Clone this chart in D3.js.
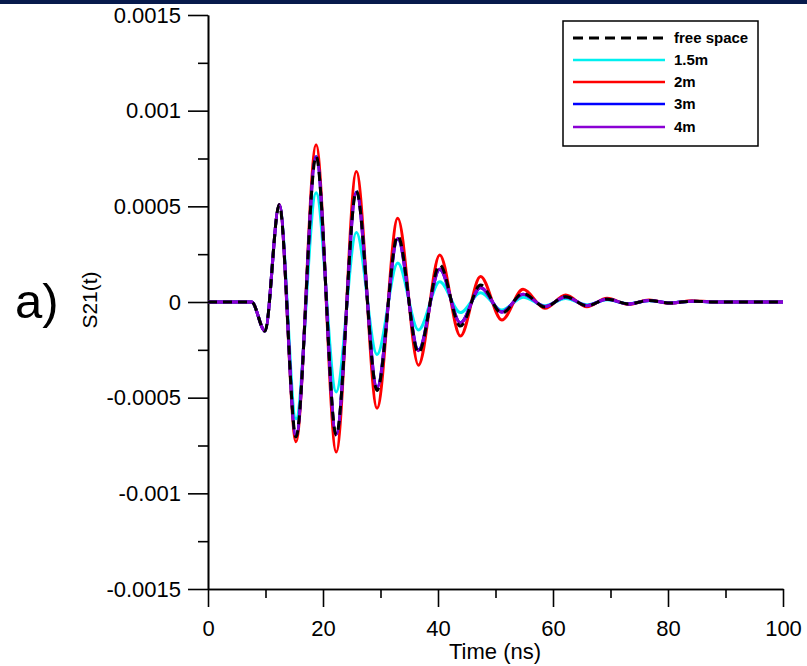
<!DOCTYPE html>
<html>
<head>
<meta charset="utf-8">
<script src="https://cdn.jsdelivr.net/npm/d3@7"></script>
<style>
  body { margin: 0; background: #fff; }
  svg { display: block; font-family: Arial, "Liberation Sans", sans-serif; }
</style>
</head>
<body>
<svg width="807" height="666"></svg>
<script>
// time samples (ns) where the curves turn (extrema), plus flat start/end
const timeNs = [0, 7.6, 9.9, 12.4, 15.3, 18.8, 22.3, 25.8, 29.4, 33.0, 36.6, 40.3, 43.9, 47.4,
                51.1, 54.8, 58.6, 62.2, 65.9, 69.4, 73.1, 76.7, 80.4, 84.2, 88, 100];

// S21(t) values, in units of 1e-4
const freeSpace = [0, 0, -1.52, 5.08, -7.05, 7.62, -6.96, 5.80, -4.62, 3.46, -2.65, 1.94, -1.26, 0.89,
                   -0.59, 0.45, -0.26, 0.28, -0.20, 0.15, -0.10, 0.08, -0.05, 0.04, 0, 0];
const d15m = [0, 0, -1.52, 5.08, -6.10, 5.71, -4.70, 3.63, -2.75, 2.04, -1.46, 1.06, -0.55, 0.49,
              -0.42, 0.25, -0.20, 0.18, -0.15, 0.12, -0.09, 0.07, -0.05, 0.04, 0, 0];
const d2m = [0, 0, -1.52, 5.10, -7.30, 8.22, -7.84, 6.82, -5.55, 4.38, -3.30, 2.46, -1.78, 1.33,
             -0.94, 0.66, -0.33, 0.37, -0.25, 0.19, -0.12, 0.10, -0.07, 0.07, 0, 0];
const d3m = [0, 0, -1.52, 5.08, -7.00, 7.60, -6.90, 5.75, -4.45, 3.30, -2.50, 1.70, -1.08, 0.75,
             -0.52, 0.40, -0.24, 0.26, -0.19, 0.14, -0.10, 0.08, -0.05, 0.04, 0, 0];
const d4m = [0, 0, -1.52, 5.08, -7.02, 7.55, -6.92, 5.70, -4.50, 3.32, -2.55, 1.72, -1.10, 0.76,
             -0.53, 0.40, -0.24, 0.26, -0.19, 0.14, -0.10, 0.08, -0.05, 0.04, 0, 0];
const unit = 1e-4;

const seriesNames = ["free space", "1.5m", "2m", "3m", "4m"];
const seriesValues = [freeSpace, d15m, d2m, d3m, d4m];
const seriesColors = ["#000000", "#00f0f0", "#ff0000", "#0000ff", "#8a00d4"];
const drawOrder = [1, 2, 3, 4, 0];

const yMajorTicks = [-0.0015, -0.001, -0.0005, 0, 0.0005, 0.001, 0.0015];
const yMinorTicks = [-0.00125, -0.00075, -0.00025, 0.00025, 0.00075, 0.00125];
const xMajorTicks = [0, 20, 40, 60, 80, 100];
const xMinorTicks = [10, 30, 50, 70, 90];

const svg = d3.select("svg");

const area = { left: 208, right: 783, top: 15, bottom: 589 };

const scX = d3.scaleLinear().domain([0, 100]).range([area.left, area.right]);
const scY = d3.scaleLinear().domain([-0.0015, 0.0015]).range([area.bottom, area.top]);

// top banner
svg.append("rect")
   .attr("x", 0).attr("y", 0)
   .attr("width", 807).attr("height", 4)
   .attr("fill", "#071a4c");

function styleAxis(g) {
  g.attr("font-family", null).attr("font-size", 22);
  g.selectAll("path, line").attr("stroke", "#000").attr("stroke-width", 1.6);
  g.selectAll("text").attr("fill", "#000");
}

// y axis
svg.append("g")
   .attr("transform", `translate(${area.left},0)`)
   .call(d3.axisLeft(scY).tickValues(yMinorTicks).tickSize(10).tickSizeOuter(0).tickFormat(""))
   .call(styleAxis);
svg.append("g")
   .attr("transform", `translate(${area.left},0)`)
   .call(d3.axisLeft(scY).tickValues(yMajorTicks).tickSize(20).tickSizeOuter(0).tickPadding(7)
         .tickFormat(d => d === 0 ? "0" : String(d)))
   .call(styleAxis);

// x axis
svg.append("g")
   .attr("transform", `translate(0,${area.bottom})`)
   .call(d3.axisBottom(scX).tickValues(xMinorTicks).tickSize(9).tickSizeOuter(0).tickFormat(""))
   .call(styleAxis);
svg.append("g")
   .attr("transform", `translate(0,${area.bottom})`)
   .call(d3.axisBottom(scX).tickValues(xMajorTicks).tickSize(18).tickSizeOuter(0).tickPadding(13))
   .call(styleAxis);

// axis titles
svg.append("text")
   .attr("x", 495).attr("y", 659)
   .attr("text-anchor", "middle")
   .attr("font-size", 22)
   .text("Time (ns)");

svg.append("text")
   .attr("transform", "translate(97,300) rotate(-90)")
   .attr("text-anchor", "middle")
   .attr("font-size", 21)
   .text("S21(t)");

svg.append("text")
   .attr("x", 15).attr("y", 318)
   .attr("font-size", 49)
   .text("a)");

// curves
const line = d3.line()
  .x(d => scX(d[0]))
  .y(d => scY(d[1] * unit))
  .curve(d3.curveMonotoneX);

drawOrder.forEach(i => {
  const pts = timeNs.map((t, k) => [t, seriesValues[i][k]]);
  svg.append("path")
     .datum(pts)
     .attr("d", line)
     .attr("fill", "none")
     .attr("stroke", seriesColors[i])
     .attr("stroke-width", 3)
     .attr("stroke-dasharray", i === 0 ? "9,6" : null);
});

// legend
const legend = svg.append("g");
legend.append("rect")
      .attr("x", 563).attr("y", 21)
      .attr("width", 195).attr("height", 125)
      .attr("fill", "#fff")
      .attr("stroke", "#000")
      .attr("stroke-width", 1.5);

const legendY = [38, 60, 82, 104, 127];
seriesNames.forEach((name, i) => {
  legend.append("line")
        .attr("x1", 573).attr("x2", 665)
        .attr("y1", legendY[i]).attr("y2", legendY[i])
        .attr("stroke", seriesColors[i])
        .attr("stroke-width", i === 0 ? 3 : 2.5)
        .attr("stroke-dasharray", i === 0 ? "10,6" : null);
  legend.append("text")
        .attr("x", 674).attr("y", legendY[i])
        .attr("dy", "0.35em")
        .attr("font-size", 15)
        .attr("font-weight", "bold")
        .text(name);
});
</script>
</body>
</html>
